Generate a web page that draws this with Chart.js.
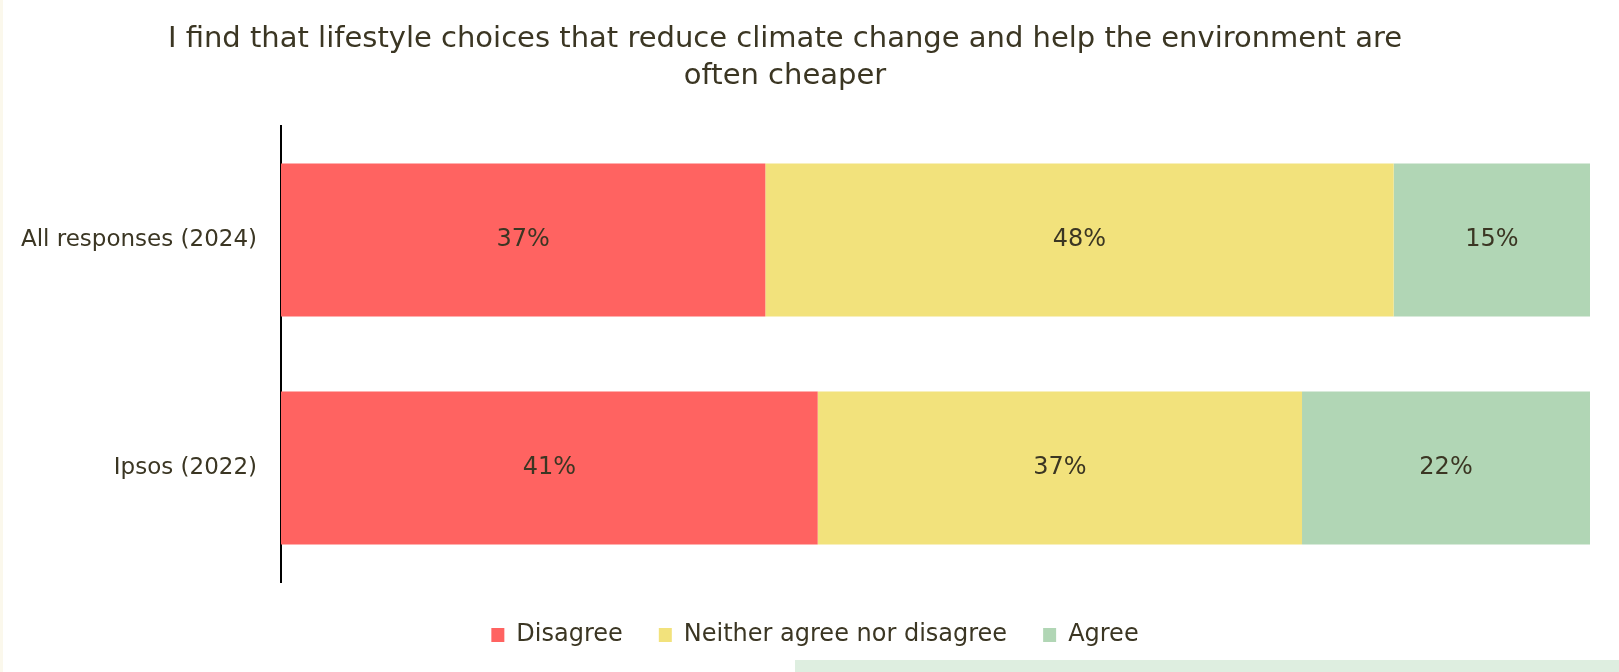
<!DOCTYPE html>
<html>
<head>
<meta charset="utf-8">
<script src="https://cdn.jsdelivr.net/npm/chart.js@4/dist/chart.umd.min.js"></script>
<style>
  html, body { margin: 0; padding: 0; background: #ffffff; }
  #wrap { position: relative; width: 1619px; height: 672px; overflow: hidden; }
  #edge { position: absolute; left: 0; top: 0; width: 3px; height: 672px; background: #fbf8ec; }
  #band { position: absolute; left: 795px; top: 660px; width: 824px; height: 12px; background: #deeee0; }
  canvas { position: absolute; left: 0; top: 0; }
</style>
</head>
<body>
<div id="wrap">
  <div id="edge"></div>
  <div id="band"></div>
  <canvas id="c" width="1619" height="672"></canvas>
</div>
<script>
// Survey groups and the share of answers in each group (percent)
const categories = ['All responses (2024)', 'Ipsos (2022)'];
const disagree = [37, 41];
const neither = [48, 37];
const agree = [15, 22];
const seriesNames = ['Disagree', 'Neither agree nor disagree', 'Agree'];
const titleLines = ['I find that lifestyle choices that reduce climate change and help the environment are', 'often cheaper'];

const FONT = '"DejaVu Sans", sans-serif';
const TEXT = '#3b3623';

// Two-line heading, centred over the plot
const headingPlugin = {
  id: 'heading',
  afterDraw(chart) {
    const ctx = chart.ctx;
    ctx.save();
    ctx.font = '29px ' + FONT;
    ctx.fillStyle = TEXT;
    ctx.textAlign = 'center';
    ctx.textBaseline = 'middle';
    ctx.fillText(titleLines[0], 785, 39);
    ctx.fillText(titleLines[1], 785, 76);
    ctx.restore();
  }
};

// Nudge the legend row below the bars and a little to the right
const legendOffset = {
  id: 'legendOffset',
  afterLayout(chart) {
    const lg = chart.legend;
    if (lg) {
      lg.top += 5;
      lg.bottom += 5;
      lg.left += 20;
      lg.right += 20;
    }
  }
};

// Percent value printed in the middle of every bar segment
const valueLabels = {
  id: 'valueLabels',
  afterDatasetsDraw(chart) {
    const ctx = chart.ctx;
    ctx.save();
    ctx.font = '24px ' + FONT;
    ctx.fillStyle = TEXT;
    ctx.textAlign = 'center';
    ctx.textBaseline = 'middle';
    chart.data.datasets.forEach((ds, i) => {
      chart.getDatasetMeta(i).data.forEach((bar, j) => {
        const c = bar.getCenterPoint();
        ctx.fillText(ds.data[j] + '%', c.x, c.y);
      });
    });
    ctx.restore();
  }
};

new Chart(document.getElementById('c'), {
  type: 'bar',
  data: {
    labels: categories,
    datasets: [
      { label: seriesNames[0], data: disagree, backgroundColor: '#ff6361' },
      { label: seriesNames[1], data: neither, backgroundColor: '#f2e27c' },
      { label: seriesNames[2], data: agree, backgroundColor: '#b1d6b5' }
    ]
  },
  options: {
    indexAxis: 'y',
    responsive: false,
    animation: false,
    layout: { padding: { top: 126, right: 29, bottom: 20, left: 0 } },
    datasets: { bar: { categoryPercentage: 1, barPercentage: 0.67, borderWidth: 0 } },
    scales: {
      x: { stacked: true, min: 0, max: 100, display: false },
      y: {
        stacked: true,
        grid: { display: false, drawTicks: false },
        border: { display: true, color: '#000000', width: 2 },
        ticks: { color: TEXT, font: { family: FONT, size: 23 }, padding: 24 },
        afterFit(scale) { scale.width = 281; }
      }
    },
    plugins: {
      title: { display: false },
      tooltip: { enabled: false },
      legend: {
        position: 'bottom',
        labels: {
          color: TEXT,
          font: { family: FONT, size: 24 },
          boxWidth: 13, boxHeight: 14,
          padding: 36
        }
      }
    }
  },
  plugins: [headingPlugin, legendOffset, valueLabels]
});
</script>
</body>
</html>
